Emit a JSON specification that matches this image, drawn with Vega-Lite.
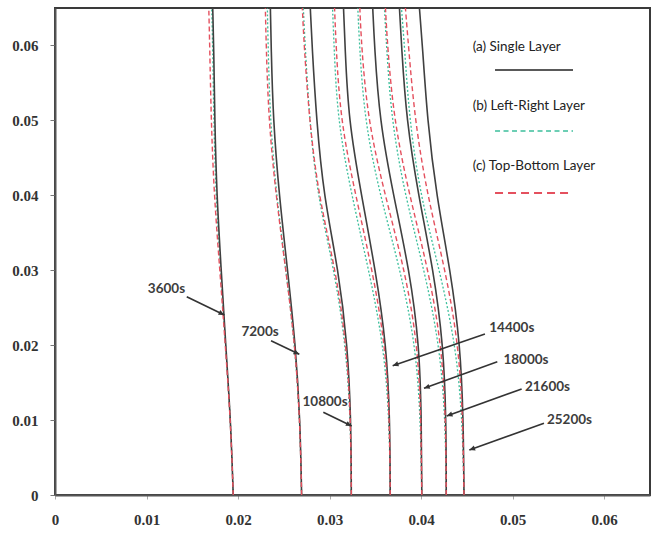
{
  "$schema": "https://vega.github.io/schema/vega-lite/v6.json",
  "width": 595,
  "height": 487,
  "autosize": {"type": "none"},
  "padding": {"left": 55, "top": 8, "right": 1, "bottom": 38},
  "background": "white",
  "config": {
    "view": {"stroke": "#3a3a3a", "strokeWidth": 2},
    "font": "Lato",
    "axis": {"grid": false, "labelFont": "Liberation Serif", "labelFontWeight": "bold", "labelFontSize": 15, "labelColor": "#333",
      "domainColor": "#555", "domainWidth": 2, "labelFlush": false, "format": "~g"},
    "axisX": {"tickSize": 4, "tickColor": "#aaa", "labelPadding": 13},
    "axisY": {"tickSize": 5, "tickColor": "#777", "labelPadding": 12}
  },
  "datasets": {
    "curves": [
      {"t": 3600, "y": 0, "S": 0.01947, "LR": 0.01947, "TB": 0.01947},
      {"t": 3600, "y": 0.01, "S": 0.01919, "LR": 0.01919, "TB": 0.01918},
      {"t": 3600, "y": 0.02, "S": 0.01865, "LR": 0.01862, "TB": 0.0186},
      {"t": 3600, "y": 0.03, "S": 0.01816, "LR": 0.01809, "TB": 0.01801},
      {"t": 3600, "y": 0.04, "S": 0.01767, "LR": 0.01757, "TB": 0.01738},
      {"t": 3600, "y": 0.05, "S": 0.01745, "LR": 0.01734, "TB": 0.01706},
      {"t": 3600, "y": 0.06, "S": 0.01734, "LR": 0.01723, "TB": 0.0169},
      {"t": 3600, "y": 0.065, "S": 0.01723, "LR": 0.01712, "TB": 0.0168},
      {"t": 7200, "y": 0, "S": 0.02694, "LR": 0.02694, "TB": 0.02694},
      {"t": 7200, "y": 0.01, "S": 0.02678, "LR": 0.02676, "TB": 0.02676},
      {"t": 7200, "y": 0.02, "S": 0.02628, "LR": 0.0262, "TB": 0.02622},
      {"t": 7200, "y": 0.03, "S": 0.02541, "LR": 0.02522, "TB": 0.02522},
      {"t": 7200, "y": 0.04, "S": 0.02449, "LR": 0.02419, "TB": 0.02413},
      {"t": 7200, "y": 0.05, "S": 0.02383, "LR": 0.0235, "TB": 0.02334},
      {"t": 7200, "y": 0.06, "S": 0.02361, "LR": 0.02328, "TB": 0.02307},
      {"t": 7200, "y": 0.065, "S": 0.02353, "LR": 0.0232, "TB": 0.02298},
      {"t": 10800, "y": 0, "S": 0.03237, "LR": 0.03237, "TB": 0.03237},
      {"t": 10800, "y": 0.01, "S": 0.03234, "LR": 0.0323, "TB": 0.03231},
      {"t": 10800, "y": 0.02, "S": 0.03196, "LR": 0.03176, "TB": 0.03185},
      {"t": 10800, "y": 0.03, "S": 0.03097, "LR": 0.03052, "TB": 0.03067},
      {"t": 10800, "y": 0.04, "S": 0.02934, "LR": 0.02865, "TB": 0.02877},
      {"t": 10800, "y": 0.05, "S": 0.02857, "LR": 0.02781, "TB": 0.02779},
      {"t": 10800, "y": 0.06, "S": 0.02808, "LR": 0.02732, "TB": 0.02721},
      {"t": 10800, "y": 0.065, "S": 0.02789, "LR": 0.02713, "TB": 0.02702},
      {"t": 14400, "y": 0, "S": 0.03662, "LR": 0.03662, "TB": 0.03662},
      {"t": 14400, "y": 0.01, "S": 0.03659, "LR": 0.03653, "TB": 0.03656},
      {"t": 14400, "y": 0.02, "S": 0.03621, "LR": 0.03591, "TB": 0.03609},
      {"t": 14400, "y": 0.03, "S": 0.03501, "LR": 0.03429, "TB": 0.03467},
      {"t": 14400, "y": 0.04, "S": 0.03348, "LR": 0.0324, "TB": 0.03284},
      {"t": 14400, "y": 0.05, "S": 0.03206, "LR": 0.03086, "TB": 0.03118},
      {"t": 14400, "y": 0.06, "S": 0.03168, "LR": 0.03048, "TB": 0.0307},
      {"t": 14400, "y": 0.065, "S": 0.03152, "LR": 0.03032, "TB": 0.03054},
      {"t": 18000, "y": 0, "S": 0.04007, "LR": 0.04007, "TB": 0.04007},
      {"t": 18000, "y": 0.01, "S": 0.04003, "LR": 0.03994, "TB": 0.03998},
      {"t": 18000, "y": 0.02, "S": 0.03981, "LR": 0.0394, "TB": 0.03964},
      {"t": 18000, "y": 0.03, "S": 0.03872, "LR": 0.03774, "TB": 0.03822},
      {"t": 18000, "y": 0.04, "S": 0.03697, "LR": 0.0355, "TB": 0.03605},
      {"t": 18000, "y": 0.05, "S": 0.03545, "LR": 0.03381, "TB": 0.03417},
      {"t": 18000, "y": 0.06, "S": 0.0349, "LR": 0.03326, "TB": 0.03348},
      {"t": 18000, "y": 0.065, "S": 0.03471, "LR": 0.03308, "TB": 0.0333},
      {"t": 21600, "y": 0, "S": 0.04274, "LR": 0.04274, "TB": 0.04274},
      {"t": 21600, "y": 0.01, "S": 0.04273, "LR": 0.04265, "TB": 0.04269},
      {"t": 21600, "y": 0.02, "S": 0.04243, "LR": 0.04202, "TB": 0.04224},
      {"t": 21600, "y": 0.03, "S": 0.04134, "LR": 0.04035, "TB": 0.0408},
      {"t": 21600, "y": 0.04, "S": 0.0397, "LR": 0.03823, "TB": 0.03871},
      {"t": 21600, "y": 0.05, "S": 0.03839, "LR": 0.03675, "TB": 0.03702},
      {"t": 21600, "y": 0.06, "S": 0.03785, "LR": 0.03621, "TB": 0.03632},
      {"t": 21600, "y": 0.065, "S": 0.03763, "LR": 0.03599, "TB": 0.0361},
      {"t": 25200, "y": 0, "S": 0.04468, "LR": 0.04468, "TB": 0.04468},
      {"t": 25200, "y": 0.01, "S": 0.04461, "LR": 0.04451, "TB": 0.04456},
      {"t": 25200, "y": 0.02, "S": 0.04428, "LR": 0.04379, "TB": 0.0441},
      {"t": 25200, "y": 0.03, "S": 0.04319, "LR": 0.04201, "TB": 0.04265},
      {"t": 25200, "y": 0.04, "S": 0.04166, "LR": 0.0399, "TB": 0.04067},
      {"t": 25200, "y": 0.05, "S": 0.04068, "LR": 0.03872, "TB": 0.03931},
      {"t": 25200, "y": 0.06, "S": 0.04014, "LR": 0.03817, "TB": 0.03861},
      {"t": 25200, "y": 0.065, "S": 0.03981, "LR": 0.03785, "TB": 0.03828}
    ],
    "legend": [
      {"m": "S", "label": "(a) Single Layer", "tx": 0.04563, "ty": 0.05973, "x1": 0.04807, "x2": 0.05659, "ly": 0.05673},
      {"m": "LR", "label": "(b) Left-Right Layer", "tx": 0.04563, "ty": 0.05192, "x1": 0.04807, "x2": 0.05659, "ly": 0.04859},
      {"m": "TB", "label": "(c) Top-Bottom Layer", "tx": 0.04563, "ty": 0.04391, "x1": 0.04807, "x2": 0.05659, "ly": 0.04031}
    ],
    "arrows": [
      {"label": "3600s", "lx": 0.01218, "ly": 0.0275, "x1": 0.01439, "y1": 0.02647, "x2": 0.0185, "y2": 0.02403},
      {"label": "7200s", "lx": 0.0224, "ly": 0.02176, "x1": 0.0236, "y1": 0.0206, "x2": 0.02669, "y2": 0.01878},
      {"label": "10800s", "lx": 0.0295, "ly": 0.01241, "x1": 0.02931, "y1": 0.01104, "x2": 0.03241, "y2": 0.00921},
      {"label": "14400s", "lx": 0.0499, "ly": 0.02233, "x1": 0.04697, "y1": 0.02149, "x2": 0.03689, "y2": 0.01726},
      {"label": "18000s", "lx": 0.05145, "ly": 0.01802, "x1": 0.04832, "y1": 0.01779, "x2": 0.04031, "y2": 0.01424},
      {"label": "21600s", "lx": 0.0538, "ly": 0.01446, "x1": 0.05098, "y1": 0.01415, "x2": 0.04279, "y2": 0.01054},
      {"label": "25200s", "lx": 0.0562, "ly": 0.01001, "x1": 0.05342, "y1": 0.00957, "x2": 0.04526, "y2": 0.00601}
    ]
  },
  "layer": [
    {
      "data": {"name": "curves"},
      "mark": {"type": "line", "color": "#3cbf9c", "strokeWidth": 1.3, "strokeDash": [2, 2], "interpolate": "basis", "clip": true},
      "encoding": {
        "x": {"field": "LR", "type": "quantitative", "scale": {"domain": [0, 0.065], "nice": false},
          "axis": {"title": null, "values": [0, 0.01, 0.02, 0.03, 0.04, 0.05, 0.06]}},
        "y": {"field": "y", "type": "quantitative", "scale": {"domain": [0, 0.065], "nice": false},
          "axis": {"title": null, "values": [0, 0.01, 0.02, 0.03, 0.04, 0.05, 0.06]}},
        "detail": {"field": "t", "type": "nominal"},
        "order": {"field": "y", "type": "quantitative"}
      }
    },
    {
      "data": {"name": "curves"},
      "mark": {"type": "line", "color": "#404040", "strokeWidth": 1.6, "interpolate": "basis", "clip": true},
      "encoding": {
        "x": {"field": "S", "type": "quantitative", "axis": {"title": null, "values": [0, 0.01, 0.02, 0.03, 0.04, 0.05, 0.06]}},
        "y": {"field": "y", "type": "quantitative", "axis": {"title": null, "values": [0, 0.01, 0.02, 0.03, 0.04, 0.05, 0.06]}},
        "detail": {"field": "t", "type": "nominal"},
        "order": {"field": "y", "type": "quantitative"}
      }
    },
    {
      "data": {"name": "curves"},
      "mark": {"type": "line", "color": "#e4505e", "strokeWidth": 1.4, "strokeDash": [5, 3], "interpolate": "basis", "clip": true},
      "encoding": {
        "x": {"field": "TB", "type": "quantitative", "axis": {"title": null, "values": [0, 0.01, 0.02, 0.03, 0.04, 0.05, 0.06]}},
        "y": {"field": "y", "type": "quantitative", "axis": {"title": null, "values": [0, 0.01, 0.02, 0.03, 0.04, 0.05, 0.06]}},
        "detail": {"field": "t", "type": "nominal"},
        "order": {"field": "y", "type": "quantitative"}
      }
    },
    {
      "data": {"name": "legend"},
      "mark": {"type": "text", "align": "left", "baseline": "middle", "font": "Lato", "fontSize": 13.5, "color": "#222"},
      "encoding": {
        "x": {"field": "tx", "type": "quantitative", "axis": {"title": null, "values": [0, 0.01, 0.02, 0.03, 0.04, 0.05, 0.06]}},
        "y": {"field": "ty", "type": "quantitative", "axis": {"title": null, "values": [0, 0.01, 0.02, 0.03, 0.04, 0.05, 0.06]}},
        "text": {"field": "label"}
      }
    },
    {
      "data": {"name": "legend"},
      "transform": [{"filter": "datum.m === 'S'"}],
      "mark": {"type": "rule", "color": "#222", "strokeWidth": 1.5},
      "encoding": {
        "x": {"field": "x1", "type": "quantitative", "axis": {"title": null, "values": [0, 0.01, 0.02, 0.03, 0.04, 0.05, 0.06]}},
        "x2": {"field": "x2"},
        "y": {"field": "ly", "type": "quantitative", "axis": {"title": null, "values": [0, 0.01, 0.02, 0.03, 0.04, 0.05, 0.06]}}
      }
    },
    {
      "data": {"name": "legend"},
      "transform": [{"filter": "datum.m === 'LR'"}],
      "mark": {"type": "rule", "color": "#3cbf9c", "strokeWidth": 1.5, "strokeDash": [5, 3.5]},
      "encoding": {
        "x": {"field": "x1", "type": "quantitative", "axis": {"title": null, "values": [0, 0.01, 0.02, 0.03, 0.04, 0.05, 0.06]}},
        "x2": {"field": "x2"},
        "y": {"field": "ly", "type": "quantitative", "axis": {"title": null, "values": [0, 0.01, 0.02, 0.03, 0.04, 0.05, 0.06]}}
      }
    },
    {
      "data": {"name": "legend"},
      "transform": [{"filter": "datum.m === 'TB'"}],
      "mark": {"type": "rule", "color": "#e4505e", "strokeWidth": 1.8, "strokeDash": [8, 5]},
      "encoding": {
        "x": {"field": "x1", "type": "quantitative", "axis": {"title": null, "values": [0, 0.01, 0.02, 0.03, 0.04, 0.05, 0.06]}},
        "x2": {"field": "x2"},
        "y": {"field": "ly", "type": "quantitative", "axis": {"title": null, "values": [0, 0.01, 0.02, 0.03, 0.04, 0.05, 0.06]}}
      }
    },
    {
      "data": {"name": "arrows"},
      "mark": {"type": "rule", "color": "#333", "strokeWidth": 1.6},
      "encoding": {
        "x": {"field": "x1", "type": "quantitative", "axis": {"title": null, "values": [0, 0.01, 0.02, 0.03, 0.04, 0.05, 0.06]}},
        "y": {"field": "y1", "type": "quantitative", "axis": {"title": null, "values": [0, 0.01, 0.02, 0.03, 0.04, 0.05, 0.06]}},
        "x2": {"field": "x2"},
        "y2": {"field": "y2"}
      }
    },
    {
      "data": {"name": "arrows"},
      "transform": [{"calculate": "atan2((datum.x2 - datum.x1) * 595, (datum.y2 - datum.y1) * 487) * 180 / PI", "as": "ang"}],
      "mark": {"type": "point", "filled": true, "color": "#333", "opacity": 1, "shape": "M0,0L-0.5,1.1L0.5,1.1Z", "size": 110, "strokeWidth": 0},
      "encoding": {
        "x": {"field": "x2", "type": "quantitative", "axis": {"title": null, "values": [0, 0.01, 0.02, 0.03, 0.04, 0.05, 0.06]}},
        "y": {"field": "y2", "type": "quantitative", "axis": {"title": null, "values": [0, 0.01, 0.02, 0.03, 0.04, 0.05, 0.06]}},
        "angle": {"field": "ang", "type": "quantitative", "scale": null}
      }
    },
    {
      "data": {"name": "arrows"},
      "mark": {"type": "text", "align": "center", "baseline": "middle", "font": "Lato", "fontWeight": "bold", "fontSize": 13.5, "color": "#3d3d3d"},
      "encoding": {
        "x": {"field": "lx", "type": "quantitative", "axis": {"title": null, "values": [0, 0.01, 0.02, 0.03, 0.04, 0.05, 0.06]}},
        "y": {"field": "ly", "type": "quantitative", "axis": {"title": null, "values": [0, 0.01, 0.02, 0.03, 0.04, 0.05, 0.06]}},
        "text": {"field": "label"}
      }
    }
  ]
}
